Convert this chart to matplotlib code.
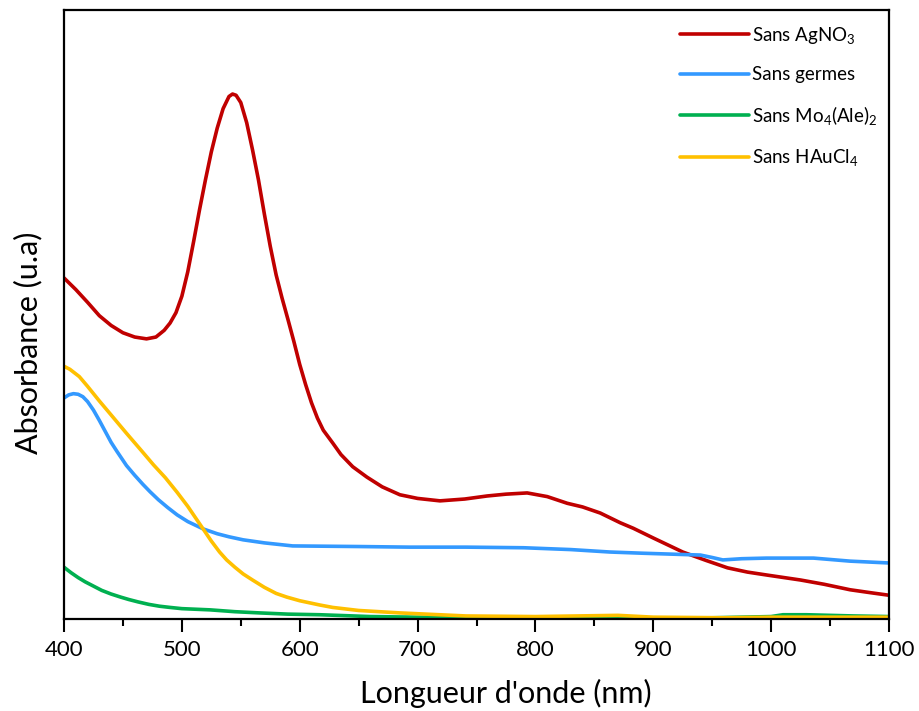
import matplotlib
matplotlib.use("Agg")
import matplotlib.pyplot as plt
from matplotlib.ticker import MultipleLocator, NullLocator

plt.rcParams['font.family'] = ['Lato', 'DejaVu Sans']
plt.rcParams['mathtext.fontset'] = 'custom'
plt.rcParams['mathtext.rm'] = 'Lato'
plt.rcParams['mathtext.it'] = 'Lato'

# Sans AgNO3
wl_red = [400, 410, 420, 430, 440, 450, 460, 470, 478, 485, 490, 495, 500, 505, 510,
          515, 520, 525, 530, 535, 540, 543, 546, 550, 555, 560, 565, 570, 575, 580,
          585, 590, 595, 600, 605, 610, 615, 620, 628, 635, 645, 657, 670, 685, 700,
          719, 740, 759, 775, 793, 810, 827, 840, 855, 872, 883, 900, 925, 945, 963,
          980, 997, 1025, 1045, 1067, 1085, 1100]
abs_red = [0.560, 0.541, 0.520, 0.498, 0.482, 0.470, 0.463, 0.460, 0.463, 0.474, 0.486, 0.503, 0.530, 0.570, 0.620,
           0.672, 0.721, 0.767, 0.806, 0.838, 0.858, 0.862, 0.860, 0.848, 0.815, 0.770, 0.721, 0.665, 0.612, 0.565,
           0.527, 0.492, 0.456, 0.418, 0.385, 0.355, 0.330, 0.310, 0.289, 0.270, 0.250, 0.233, 0.217, 0.204, 0.198,
           0.194, 0.197, 0.202, 0.205, 0.207, 0.201, 0.190, 0.184, 0.174, 0.158, 0.149, 0.133, 0.110, 0.096, 0.084,
           0.077, 0.072, 0.064, 0.057, 0.048, 0.043, 0.039]

# Sans germes
wl_blue = [400, 404, 408, 412, 416, 420, 425, 430, 435, 440, 445, 453, 460, 467, 473,
           480, 488, 496, 505, 518, 530, 540, 552, 570, 594, 650, 693, 741, 790, 830,
           863, 891, 940, 950, 959, 975, 996, 1036, 1067, 1100]
abs_blue = [0.363, 0.368, 0.370, 0.369, 0.365, 0.357, 0.343, 0.326, 0.308, 0.290, 0.275, 0.252, 0.236, 0.221, 0.209,
            0.196, 0.183, 0.171, 0.160, 0.148, 0.140, 0.135, 0.130, 0.125, 0.120, 0.119, 0.118, 0.118, 0.117, 0.114,
            0.110, 0.108, 0.105, 0.101, 0.097, 0.099, 0.100, 0.100, 0.095, 0.092]

# Sans Mo4(Ale)2
wl_green = [400, 406, 412, 418, 425, 432, 440, 448, 455, 463, 472, 481, 490, 500, 524,
            545, 566, 590, 617, 660, 700, 760, 850, 950, 1000, 1010, 1030, 1050, 1070, 1100]
abs_green = [0.085, 0.076, 0.068, 0.061, 0.054, 0.047, 0.041, 0.036, 0.032, 0.028, 0.024, 0.021, 0.019, 0.017, 0.015,
             0.012, 0.010, 0.008, 0.007, 0.004, 0.003, 0.002, 0.002, 0.002, 0.004, 0.007, 0.007, 0.006, 0.005, 0.004]

# Sans HAuCl4
wl_yellow = [400, 405, 413, 420, 430, 440, 453, 465, 476, 486, 496, 505, 512, 518, 525,
             532, 538, 545, 552, 560, 570, 580, 589, 600, 617, 628, 650, 685, 741, 800,
             870, 900, 960, 1000, 1100]
abs_yellow = [0.415, 0.410, 0.398, 0.382, 0.358, 0.335, 0.305, 0.278, 0.253, 0.232, 0.208, 0.185, 0.165, 0.148, 0.128,
              0.110, 0.097, 0.085, 0.074, 0.064, 0.052, 0.042, 0.036, 0.030, 0.023, 0.019, 0.014, 0.010, 0.005, 0.004,
              0.006, 0.003, 0.002, 0.003, 0.003]

series = [
    (wl_red, abs_red, '#C00000', r'Sans AgNO$_{3}$'),
    (wl_blue, abs_blue, '#3399FF', 'Sans germes'),
    (wl_green, abs_green, '#00B050', r'Sans Mo$_{4}$(Ale)$_{2}$'),
    (wl_yellow, abs_yellow, '#FFC000', r'Sans HAuCl$_{4}$'),
]

fig = plt.figure(figsize=(9.2, 7.11), dpi=100)
ax = fig.add_axes([64/920, 1 - 619/711, (889-64)/920, (619-10)/711])

for x, y, c, lab in series:
    ax.plot(x, y, color=c, lw=2.6, label=lab, solid_capstyle='round', solid_joinstyle='round')

ax.set_xlim(400, 1100)
ax.set_ylim(0, 1.0)
ax.xaxis.set_major_locator(MultipleLocator(100))
ax.xaxis.set_minor_locator(MultipleLocator(50))
ax.yaxis.set_major_locator(NullLocator())
ax.yaxis.set_minor_locator(NullLocator())
ax.tick_params(axis='x', which='major', direction='out', length=9, width=1.5, labelsize=16, pad=6)
ax.tick_params(axis='x', which='minor', direction='out', length=5, width=1.5)
for s in ax.spines.values():
    s.set_linewidth(1.6)

ax.set_xlabel("Longueur d'onde (nm)", fontsize=22)
ax.set_ylabel("Absorbance (u.a)", fontsize=22)
ax.xaxis.label.set_va('center')
ax.yaxis.label.set_va('center')
ax.xaxis.set_label_coords((505.5 - 64) / 825, (619 - 693) / 609)
ax.yaxis.set_label_coords((28 - 64) / 825, (619 - 342.5) / 609)

leg = ax.legend(loc='upper left', bbox_to_anchor=(680/920, 1 - 24.5/711), bbox_transform=fig.transFigure,
                frameon=False, fontsize=13.5, handlelength=3.68, handletextpad=0.16,
                labelspacing=1.1, borderpad=0, borderaxespad=0)
for line in leg.get_lines():
    line.set_linewidth(2.6)

fig.savefig('out.png', dpi=100)
